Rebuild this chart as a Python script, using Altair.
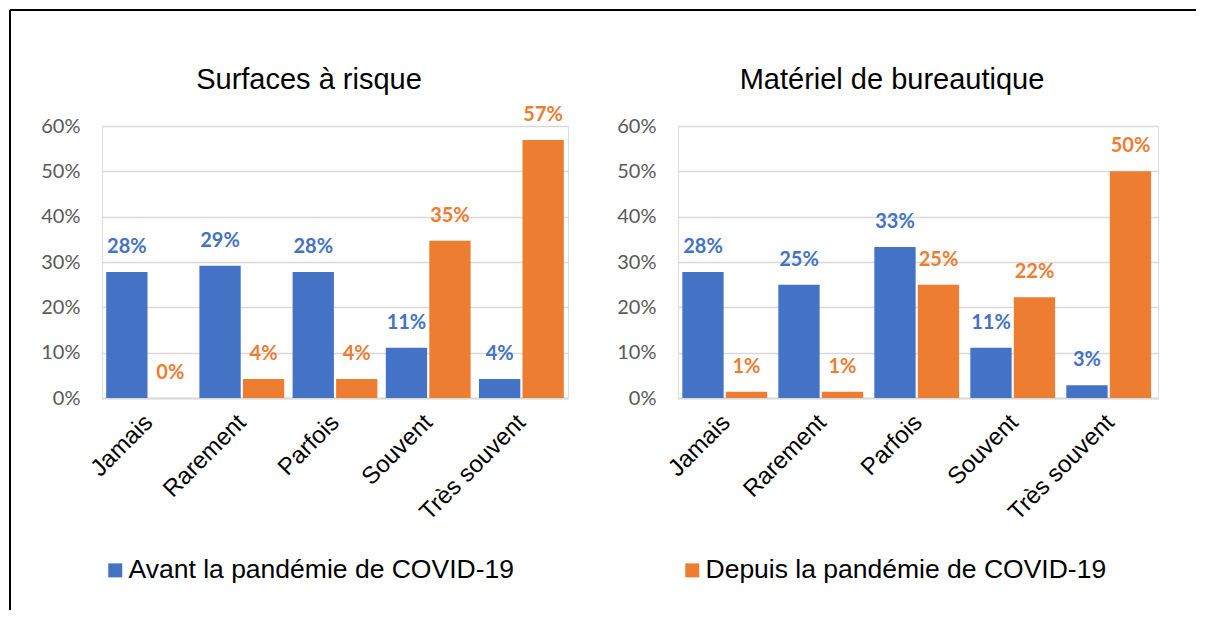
import altair as alt
import pandas as pd

categories = ["Jamais", "Rarement", "Parfois", "Souvent", "Très souvent"]
series = ["Avant la pandémie de COVID-19", "Depuis la pandémie de COVID-19"]
colors = ["#4472C4", "#ED7D31"]

surf_title = "Surfaces à risque"
surf_avant = [0.278, 0.292, 0.278, 0.111, 0.042]
surf_depuis = [0.0, 0.042, 0.042, 0.347, 0.569]

bur_title = "Matériel de bureautique"
bur_avant = [0.278, 0.250, 0.333, 0.111, 0.028]
bur_depuis = [0.014, 0.014, 0.250, 0.222, 0.500]

y_ticks = [0, 0.1, 0.2, 0.3, 0.4, 0.5, 0.6]

PLOT_H = 272
TOP_Y = -116


def panel(title, avant, depuis, width):
    rows = []
    for c, a, d in zip(categories, avant, depuis):
        rows.append({"cat": c, "series": series[0], "val": a})
        rows.append({"cat": c, "series": series[1], "val": d})
    df = pd.DataFrame(rows)
    base = alt.Chart(df)
    x = alt.X(
        "cat:N",
        sort=categories,
        scale=alt.Scale(paddingInner=0.09, paddingOuter=0.045),
        axis=alt.Axis(
            title=None, labelAngle=-45, labelFont="Liberation Sans",
            labelFontSize=24, labelColor="#000000", ticks=False,
            domainColor="#D9D9D9", domainWidth=2, labelPadding=12,
            labelOffset=-8, labelOverlap=False, labelLimit=300,
        ),
    )
    xo = alt.XOffset("series:N", sort=series, scale=alt.Scale(paddingInner=0.05, paddingOuter=0))
    y = alt.Y(
        "val:Q",
        scale=alt.Scale(domain=[0, 0.6], nice=False),
        axis=alt.Axis(
            title=None, format=".0%", values=y_ticks, domain=False, ticks=False,
            gridColor="#D9D9D9", gridWidth=1.5, labelFont="Lato",
            labelFontSize=20, labelColor="#595959", labelPadding=22,
        ),
    )
    color_scale = alt.Scale(domain=series, range=colors)
    bars = base.mark_bar().encode(
        x=x, xOffset=xo, y=y,
        color=alt.Color(
            "series:N", scale=color_scale,
            legend=alt.Legend(
                orient="none", legendX=0, legendY=431, direction="horizontal",
                title=None, labelFont="Liberation Sans", labelFontSize=26.5,
                labelColor="#000000", symbolType="square", symbolSize=196,
                symbolStrokeWidth=0, labelOffset=0, columnPadding=165,
                labelLimit=600,
            ),
        ),
    )
    labels = base.mark_text(
        dy=-19, baseline="alphabetic", font="Lato", fontWeight="bold", fontSize=20
    ).encode(
        x=x, xOffset=xo, y=y,
        text=alt.Text("val:Q", format=".0%"),
        color=alt.Color("series:N", scale=color_scale, legend=None),
    )
    tdf = pd.DataFrame({"t": [title]})
    ttl = alt.Chart(tdf).mark_text(
        font="Liberation Sans", fontSize=29, color="#000000",
        align="center", baseline="alphabetic",
    ).encode(text="t:N", x=alt.value(width / 2 - 26), y=alt.value(-37))
    return alt.layer(bars, labels, ttl).properties(width=width, height=PLOT_H)


left = panel(surf_title, surf_avant, surf_depuis, 466)
right = panel(bur_title, bur_avant, bur_depuis, 480)

frame_df = pd.DataFrame({"b": [0]})
top_rule = alt.Chart(frame_df).mark_rule(color="#000000", strokeWidth=2).encode(
    x=alt.value(-92), x2=alt.value(1094), y=alt.value(TOP_Y)
)
left_rule = alt.Chart(frame_df).mark_rule(color="#000000", strokeWidth=2).encode(
    x=alt.value(-92), y=alt.value(TOP_Y), y2=alt.value(484)
)
left = alt.layer(left, top_rule, left_rule)

chart = alt.hconcat(left, right, spacing=110, bounds="flush").properties(
    padding=0
).configure_view(stroke=None).configure(background="white")

chart.save("out.html", embed_options={"renderer": "svg", "actions": False})
